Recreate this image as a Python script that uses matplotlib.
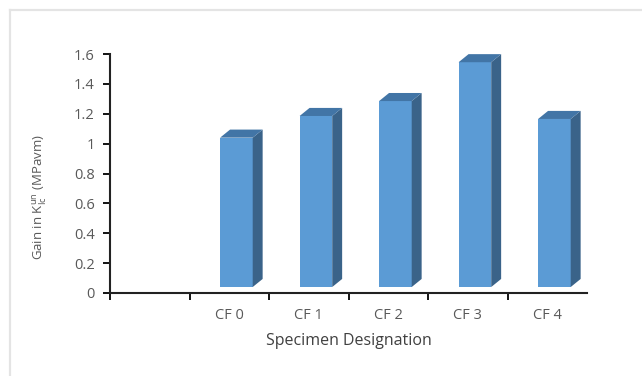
import matplotlib
matplotlib.use("Agg")
import matplotlib.pyplot as plt
from matplotlib.patches import Polygon, Rectangle
import numpy as np

plt.rcParams["font.family"] = ["Open Sans", "DejaVu Sans"]
plt.rcParams["mathtext.fontset"] = "custom"
plt.rcParams["mathtext.rm"] = "Open Sans"

categories = ["", "CF 0", "CF 1", "CF 2", "CF 3", "CF 4"]
gain = [None, 1.00, 1.145, 1.245, 1.505, 1.125]
yticks = [0, 0.2, 0.4, 0.6, 0.8, 1, 1.2, 1.4, 1.6]

FRONT = "#5b9bd5"
TOP = "#4275a6"
SIDE = "#3a6389"
TXT = "#595959"

fig = plt.figure(figsize=(6.42, 3.76), dpi=100)
ax = fig.add_axes([110 / 642, 83 / 376, 477 / 642, 239 / 376])

# pseudo-3D columns: front face plus a depth offset for top and side
floor = 0.04
width = 0.41
dx, dy = 0.125, 0.054
for i, v in enumerate(gain):
    if v is None:
        continue
    x0 = i - 0.115
    x1 = x0 + width
    top = floor + v
    ax.add_patch(Rectangle((x0, floor), width, v, facecolor=FRONT,
                           edgecolor="none", zorder=3))
    ax.add_patch(Polygon([(x1, floor), (x1 + dx, floor + dy), (x1 + dx, top + dy),
                          (x1, top)], closed=True, facecolor=SIDE,
                         edgecolor="none", zorder=3))
    ax.add_patch(Polygon([(x0, top), (x1, top), (x1 + dx, top + dy),
                          (x0 + dx, top + dy)], closed=True, facecolor=TOP,
                         edgecolor="none", zorder=3))

ax.set_xlim(-0.5, len(categories) - 0.5)
ax.set_ylim(0, 1.6)
ax.set_yticks(yticks)
ax.set_yticklabels([f"{t:g}" for t in yticks], color=TXT, fontsize=10.5)
ax.set_xticks(np.arange(len(categories)) - 0.5)
ax.set_xticklabels([])
ax.set_xticks(np.arange(len(categories)), minor=True)
ax.set_xticklabels(categories, minor=True, color=TXT, fontsize=10.5)
ax.tick_params(axis="x", which="major", direction="out", length=5, width=1.3)
ax.tick_params(axis="x", which="minor", length=0, pad=11)
ax.tick_params(axis="y", direction="out", length=5, width=1.3, pad=6)

for s in ("top", "right"):
    ax.spines[s].set_visible(False)
for s in ("left", "bottom"):
    ax.spines[s].set_linewidth(1.5)
    ax.spines[s].set_color("#222222")

ax.set_xlabel("Specimen Designation", fontsize=11.5, color="#404040", labelpad=7)
ax.set_ylabel(r"Gain in K$_{\mathregular{Ic}}^{\mathregular{un}}$ (MPavm)",
              fontsize=9.5, color=TXT)
ax.yaxis.set_label_coords(-0.128, 0.40)

# light chart-area frame
fig.add_artist(plt.Line2D([10.5 / 642, 10.5 / 642], [0, 1 - 9.5 / 376],
                          transform=fig.transFigure, color="#e4e4e4", lw=1.6))
fig.add_artist(plt.Line2D([10.5 / 642, 1], [1 - 9.5 / 376, 1 - 9.5 / 376],
                          transform=fig.transFigure, color="#e4e4e4", lw=1.6))

fig.savefig("out.png", dpi=100)
